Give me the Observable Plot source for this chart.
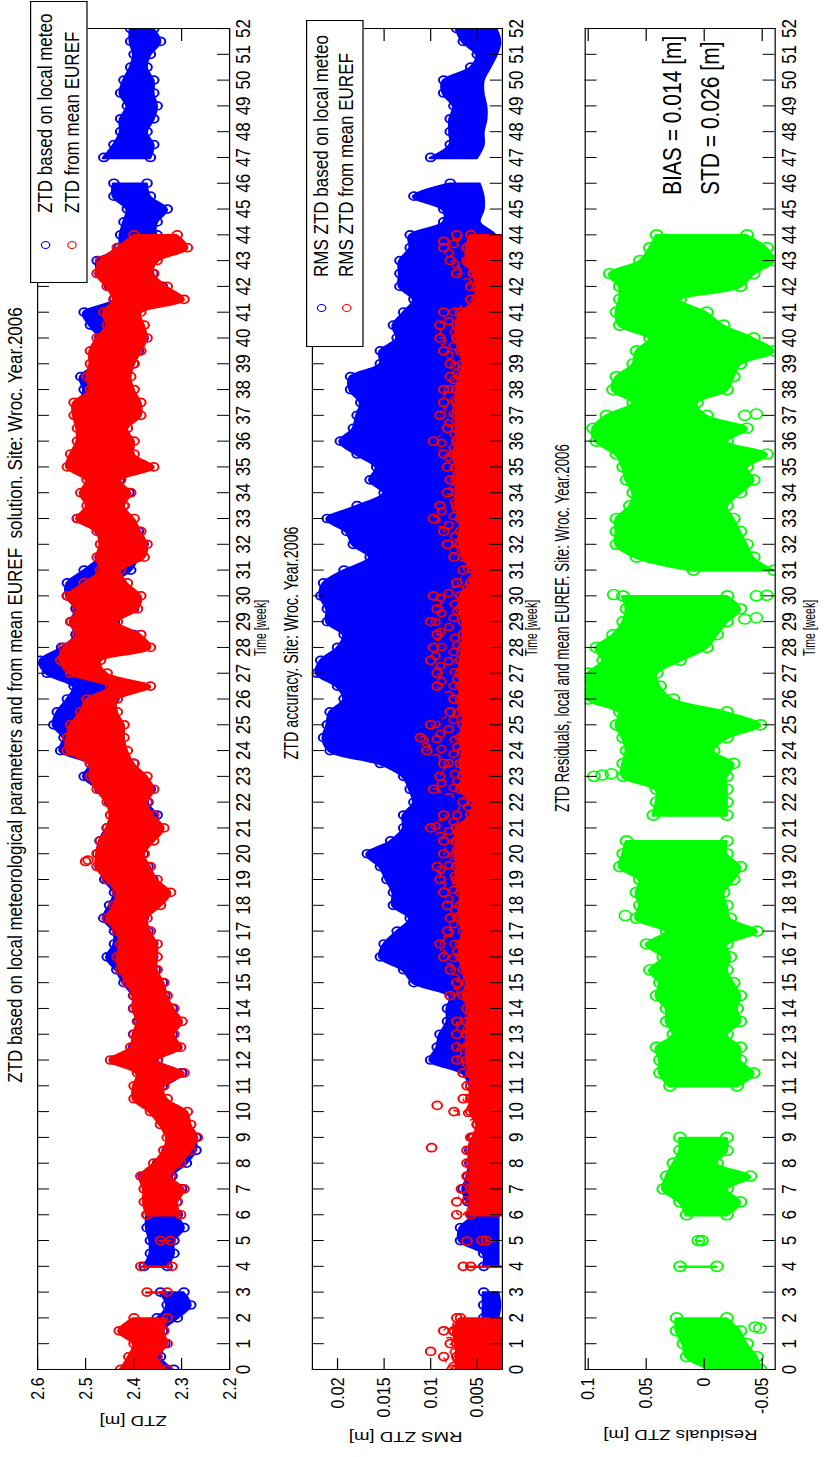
<!DOCTYPE html>
<html>
<head>
<meta charset="utf-8">
<script src="https://cdn.jsdelivr.net/npm/d3@7"></script>
<script src="https://cdn.jsdelivr.net/npm/@observablehq/plot@0.6"></script>
<style>
html, body { margin:0; padding:0; background:#fff; width:824px; height:1457px; overflow:hidden; }
#land { position:absolute; left:0; top:0; width:1457px; height:687px; transform-origin:0 0;
  transform: translate(0px,1457px) rotate(-90deg) scale(1,1.2);
  font-family:"Liberation Sans", Arial, Helvetica, sans-serif; color:#000; }
.lbl { position:absolute; line-height:1; white-space:pre; }
</style>
</head>
<body>
<svg width="0" height="0" style="position:absolute">
  <defs>
    <pattern id="redScatter" patternUnits="userSpaceOnUse" width="34" height="26">
      <circle cx="4" cy="5" r="3.5" fill="none" stroke="#ff0000" stroke-width="1.6"/>
      <circle cx="9" cy="8" r="3.5" fill="none" stroke="#ff0000" stroke-width="1.6"/>
      <circle cx="19" cy="4" r="3.5" fill="none" stroke="#ff0000" stroke-width="1.6"/>
      <circle cx="28" cy="9" r="3.5" fill="none" stroke="#ff0000" stroke-width="1.6"/>
      <circle cx="14" cy="15" r="3.5" fill="none" stroke="#ff0000" stroke-width="1.6"/>
      <circle cx="3" cy="20" r="3.5" fill="none" stroke="#ff0000" stroke-width="1.6"/>
      <circle cx="23" cy="19" r="3.5" fill="none" stroke="#ff0000" stroke-width="1.6"/>
      <circle cx="30" cy="22" r="3.5" fill="none" stroke="#ff0000" stroke-width="1.6"/>
    </pattern>
  </defs>
</svg>
<div id="land"></div>
<script>
// ---------- data ----------
const weeks = [0,0.5,1,1.5,2,2.5,3,3.5,4,4.5,
 5,5.5,6,6.5,7,7.5,8,8.5,9,9.5,
 10,10.5,11,11.5,12,12.5,13,13.5,14,14.5,
 15,15.5,16,16.5,17,17.5,18,18.5,19,19.5,
 20,20.5,21,21.5,22,22.5,23,23.5,24,24.5,
 25,25.5,26,26.5,27,27.5,28,28.5,29,29.5,
 30,30.5,31,31.5,32,32.5,33,33.5,34,34.5,
 35,35.5,36,36.5,37,37.5,38,38.5,39,39.5,
 40,40.5,41,41.5,42,42.5,43,43.5,44,44.5,
 45,45.5,46,46.5,47,47.5,48,48.5,49,49.5,
 50,50.5,51,51.5,52];

const weekTicks = [0,1,2,3,4,5,6,7,8,9,10,11,12,13,14,15,16,17,18,19,20,21,22,23,24,25,26,
 27,28,29,30,31,32,33,34,35,36,37,38,39,40,41,42,43,44,45,46,47,48,49,50,51,52];
const ztdTicks = [2.2,2.3,2.4,2.5,2.6];
const rmsTicks = [0.005,0.01,0.015,0.02];
const resTicks = [-0.05,0,0.05,0.1];

// ZTD from mean EUREF (red): upper / lower edge of the point cloud [m]
const ztdEurefHi = [2.427,2.41,2.399,2.43,2.399,null,2.372,null,2.385,null,
 2.344,null,2.372,2.378,2.378,2.385,2.358,2.337,2.33,2.344,
 2.365,2.399,2.399,2.392,2.448,2.406,2.399,2.392,2.399,2.399,
 2.413,2.427,2.434,2.427,2.434,2.455,2.441,2.434,2.455,2.476,
 2.476,2.469,2.455,2.448,2.455,2.476,2.49,2.49,2.538,2.538,
 2.531,2.51,2.497,2.448,2.531,2.552,2.545,2.517,2.531,2.517,
 2.538,2.503,2.469,2.476,2.469,2.476,2.517,2.497,2.51,2.497,
 2.538,2.531,2.517,2.517,2.524,2.524,2.49,2.497,2.49,2.49,
 2.476,2.455,2.462,2.441,2.455,2.476,2.469,2.434,2.399,null,
 null,null,null,null,null,null,null,null,null,null,
 null,null,null,null,null];
const ztdEurefLo = [2.33,2.351,2.33,2.337,2.33,null,2.33,null,2.32,null,
 2.323,null,2.302,2.309,2.295,2.323,2.302,2.281,2.267,2.281,
 2.288,2.33,2.337,2.295,2.351,2.302,2.316,2.299,2.316,2.33,
 2.337,2.351,2.351,2.351,2.365,2.372,2.344,2.323,2.351,2.365,
 2.378,2.358,2.337,2.358,2.372,2.358,2.372,2.399,2.413,2.42,
 2.42,2.434,2.434,2.365,2.455,2.469,2.365,2.385,2.434,2.392,
 2.385,2.413,2.427,2.378,2.372,2.385,2.399,2.42,2.406,2.427,
 2.358,2.399,2.399,2.413,2.385,2.385,2.399,2.406,2.399,2.385,
 2.372,2.378,2.385,2.295,2.33,2.358,2.351,2.288,2.309,null,
 null,null,null,null,null,null,null,null,null,null,
 null,null,null,null,null];

// ZTD based on local meteo (blue)
const ztdLocalHi = [2.372,2.378,2.39,2.41,2.351,2.33,2.344,null,2.378,2.365,
 2.365,2.372,2.372,2.37,2.37,2.38,2.35,2.33,2.32,null,
 null,null,2.39,2.385,2.44,2.40,2.40,2.39,2.40,2.40,
 2.42,2.435,2.455,2.44,2.44,2.462,2.45,2.44,2.46,2.47,
 2.475,2.47,2.455,2.42,2.45,2.47,2.503,2.49,2.552,2.545,
 2.566,2.559,2.538,2.524,2.58,2.594,2.55,2.52,2.53,2.52,
 2.538,2.538,2.503,2.47,2.46,2.47,2.517,2.49,2.50,2.49,
 2.52,2.52,2.50,2.49,2.51,2.51,2.503,2.51,2.48,2.48,
 2.47,2.49,2.503,2.44,2.45,2.47,2.476,2.43,2.427,2.42,
 2.413,2.441,2.441,null,2.462,2.441,2.427,2.427,2.413,2.427,
 2.42,2.406,2.399,2.406,2.406];
const ztdLocalLo = [2.316,2.344,2.335,2.34,2.309,2.281,2.295,null,2.33,2.316,
 2.316,2.295,2.309,2.31,2.30,2.32,2.29,2.27,2.27,null,
 null,null,2.34,2.30,2.35,2.31,2.32,2.31,2.32,2.335,
 2.34,2.355,2.36,2.36,2.37,2.38,2.36,2.34,2.36,2.37,
 2.38,2.37,2.35,2.351,2.37,2.365,2.41,2.40,2.43,2.43,
 2.44,2.476,2.441,2.448,2.476,2.503,2.40,2.40,2.44,2.40,
 2.42,2.44,2.406,2.39,2.38,2.39,2.42,2.42,2.41,2.43,
 2.40,2.41,2.43,2.43,2.40,2.40,2.41,2.42,2.40,2.39,
 2.38,2.40,2.40,2.32,2.34,2.36,2.36,2.31,2.351,2.351,
 2.33,2.365,2.372,null,2.365,2.358,2.372,2.358,2.351,2.358,
 2.358,2.372,2.365,2.344,2.358];
const ztdEurefOutT = [19.7,19.75];
const ztdEurefOutV = [2.50,2.495];

// RMS of ZTD based on local meteo (blue)
const rmsLocalHi = [0.0043,0.0040,0.0040,0.0040,0.0043,0.0043,0.0043,null,0.0043,0.0043,
 0.0068,0.0068,0.0055,0.0060,0.0065,0.0060,0.0058,0.0058,0.0055,null,
 null,null,0.0057,0.0065,0.0100,0.0093,0.0090,0.0082,0.0082,0.0079,
 0.0118,0.0129,0.0154,0.0150,0.0136,0.0122,0.0140,0.0140,0.0147,0.0154,
 0.0168,0.0143,0.0129,0.0129,0.0118,0.0122,0.0129,0.0154,0.0208,0.0215,
 0.0211,0.0208,0.0193,0.0200,0.0222,0.0218,0.0200,0.0193,0.0211,0.0211,
 0.0218,0.0215,0.0193,0.0165,0.0183,0.0190,0.0211,0.0179,0.0150,0.0165,
 0.0158,0.0179,0.0197,0.0183,0.0179,0.0175,0.0186,0.0186,0.0154,0.0154,
 0.0136,0.0140,0.0129,0.0118,0.0133,0.0133,0.0133,0.0122,0.0122,0.0086,
 0.0086,0.0118,0.0079,null,0.0100,0.0079,0.0079,0.0079,0.0075,0.0086,
 0.0086,0.0057,0.0050,0.0065,0.0072];
const rmsLocalLo = [0.0027,0.0027,0.0027,0.0027,0.0027,0.0025,0.0027,null,0.0027,0.0027,
 0.0027,0.0027,0.0027,0.0027,0.003,0.003,0.003,0.003,0.003,null,
 null,null,0.003,0.003,0.003,0.003,0.003,0.003,0.003,0.003,
 0.003,0.003,0.003,0.003,0.003,0.003,0.003,0.003,0.003,0.003,
 0.003,0.003,0.003,0.003,0.003,0.003,0.003,0.003,0.003,0.003,
 0.003,0.003,0.003,0.003,0.003,0.003,0.003,0.003,0.003,0.003,
 0.003,0.003,0.003,0.003,0.003,0.003,0.003,0.003,0.003,0.003,
 0.003,0.003,0.003,0.003,0.003,0.003,0.003,0.003,0.003,0.003,
 0.003,0.003,0.003,0.003,0.003,0.003,0.003,0.003,0.003,0.0047,
 0.0043,0.0043,0.0047,null,0.0050,0.0043,0.0043,0.0040,0.0040,0.0043,
 0.0043,0.0036,0.0029,0.0025,0.0029];

// RMS of ZTD from mean EUREF (red): scattered top, dense top, floor
const rmsEurefHi = [0.0077,0.0086,0.0079,0.0086,0.0072,null,null,null,0.0065,null,
 0.0045,null,0.0072,0.0072,0.0067,0.0061,0.0061,0.0061,0.0057,0.0050,
 0.0075,0.0065,0.0061,0.0065,0.0072,0.0072,0.0072,0.0072,0.0061,0.0079,
 0.0072,0.0079,0.0086,0.0090,0.0082,0.0079,0.0082,0.0086,0.0090,0.0093,
 0.0086,0.0086,0.0100,0.0086,0.0065,0.0097,0.0090,0.0086,0.0104,0.0111,
 0.0100,0.0079,0.0075,0.0093,0.0093,0.0100,0.0097,0.0093,0.0100,0.0093,
 0.0097,0.0072,0.0065,0.0075,0.0082,0.0086,0.0097,0.0090,0.0082,0.0079,
 0.0082,0.0086,0.0097,0.0082,0.0090,0.0086,0.0086,0.0079,0.0079,0.0086,
 0.0090,0.0090,0.0086,0.0057,0.0057,0.0072,0.0079,0.0086,0.0072,null,
 null,null,null,null,null,null,null,null,null,null,
 null,null,null,null,null];
const rmsEurefDense = [0.0072,0.0072,0.0072,0.0075,0.0068,null,null,null,0.0057,null,
 0.0040,null,0.0057,0.0057,0.0057,0.0057,0.0057,0.0057,0.0054,0.0050,
 0.0057,0.0057,0.0057,0.0057,0.0061,0.0061,0.0061,0.0061,0.0057,0.0065,
 0.0061,0.0065,0.0068,0.0068,0.0065,0.0068,0.0068,0.0068,0.0072,0.0072,
 0.0072,0.0072,0.0072,0.0057,0.0054,0.0068,0.0065,0.0068,0.0065,0.0068,
 0.0065,0.0065,0.0068,0.0068,0.0068,0.0068,0.0065,0.0065,0.0065,0.0068,
 0.0068,0.0057,0.0054,0.0065,0.0068,0.0068,0.0068,0.0072,0.0072,0.0072,
 0.0072,0.0075,0.0072,0.0072,0.0072,0.0072,0.0072,0.0068,0.0065,0.0068,
 0.0072,0.0072,0.0068,0.0050,0.0050,0.0054,0.0061,0.0061,0.0057,null,
 null,null,null,null,null,null,null,null,null,null,
 null,null,null,null,null];
const rmsEurefLo = [0.0023,0.0023,0.0023,0.0023,0.0023,null,null,null,0.0023,null,
 0.0030,null,0.0023,0.0023,0.0023,0.0023,0.0023,0.0023,0.0023,0.0023,
 0.0023,0.0023,0.0023,0.0023,0.0023,0.0023,0.0023,0.0023,0.0023,0.0023,
 0.0023,0.0023,0.0023,0.0023,0.0023,0.0023,0.0023,0.0023,0.0023,0.0023,
 0.0023,0.0023,0.0023,0.0023,0.0023,0.0023,0.0023,0.0023,0.0023,0.0023,
 0.0023,0.0023,0.0023,0.0023,0.0023,0.0023,0.0023,0.0023,0.0023,0.0023,
 0.0023,0.0023,0.0023,0.0023,0.0023,0.0023,0.0023,0.0023,0.0023,0.0023,
 0.0023,0.0023,0.0023,0.0023,0.0023,0.0023,0.0023,0.0023,0.0023,0.0023,
 0.0023,0.0023,0.0023,0.0023,0.0023,0.0023,0.0023,0.0023,0.0023,null,
 null,null,null,null,null,null,null,null,null,null,
 null,null,null,null,null];
const rmsEurefOutT = [0.7,4.98,8.6,10.24,43.75];
const rmsEurefOutV = [0.0100,0.0061,0.0099,0.0093,0.0086];

// Residuals local - mean EUREF (green)
const resHi = [-0.0081,0.015,0.0179,0.0237,0.0237,null,null,null,0.0208,null,
 0.005,null,0.015,0.0208,0.0352,0.0323,0.0265,0.0208,0.0208,null,
 null,null,0.0294,0.0381,0.0381,0.041,0.0265,0.0323,0.0323,0.041,
 0.0381,0.0467,0.0352,0.0496,0.0323,0.0583,0.0554,0.0583,0.0554,0.0727,
 0.0698,0.0669,null,0.0438,0.041,0.041,0.0698,0.0698,0.0669,0.0698,
 0.0756,0.0727,0.1,0.1,0.1,0.087,0.0929,0.0785,0.0698,0.0669,
 0.07,null,0.0092,0.0583,0.0756,0.0756,0.0756,0.064,0.0611,0.0669,
 0.0698,0.0756,0.0929,0.0958,0.0842,0.0611,0.0785,0.0756,0.0611,0.0583,
 0.0467,0.0727,0.0756,0.0727,0.0727,0.0813,0.0554,0.0467,0.041,null,
 null,null,null,null,null,null,null,null,null,null,
 null,null,null,null,null];
const resLo = [-0.0485,-0.0456,-0.0369,-0.0312,-0.0196,null,null,null,-0.011,null,
 0.002,null,-0.0196,-0.0312,-0.0196,-0.0398,-0.011,-0.0196,-0.0196,null,
 null,null,-0.0283,-0.0427,-0.0312,-0.0312,-0.0196,-0.0312,-0.0283,-0.0312,
 -0.0254,-0.0196,-0.0225,-0.0196,-0.0456,-0.0225,-0.0196,-0.0167,-0.0254,-0.0312,
 -0.0196,-0.0196,null,-0.0196,-0.0196,-0.0196,-0.0196,-0.0254,-0.0081,-0.0196,
 -0.0485,-0.0196,0.0265,0.0381,0.041,0.0208,-0.0023,-0.011,-0.0196,-0.0312,
 -0.02,null,-0.06,-0.0427,-0.0369,-0.0312,-0.0254,-0.0196,-0.0312,-0.0427,
 -0.0369,-0.0542,-0.0196,-0.0369,-0.0023,0.0063,-0.0196,-0.0254,-0.0312,-0.06,
 -0.0427,-0.0167,-0.0023,0.0208,-0.0312,-0.0427,-0.06,-0.0542,-0.0369,null,
 null,null,null,null,null,null,null,null,null,null,
 null,null,null,null,null];
const resOutT = [1.6,1.65,23,23.05,23.1,29.1,29.15,30,30.02,30.05,37,37.05,17.6];
const resOutV = [-0.048,-0.044,0.095,0.088,0.08,-0.035,-0.045,-0.045,-0.054,0.078,-0.035,-0.045,0.068];

const titles = [
  "ZTD based on local meteorological parameters and from mean EUREF  solution. Site: Wroc. Year.2006",
  "ZTD accuracy. Site: Wroc. Year.2006",
  "ZTD Residuals, local and mean EUREF. Site: Wroc. Year.2006"
];
const yLabels = ["ZTD [m]", "RMS ZTD [m]", "Residuals ZTD [m]"];
const xLabel = "Time [week]";
const legend1 = ["ZTD based on local meteo", "ZTD from mean EUREF"];
const legend2 = ["RMS ZTD based on local meteo", "RMS ZTD from mean EUREF"];
const stats = ["BIAS = 0.014 [m]", "STD = 0.026 [m]"];

// ---------- tables ----------
const ztdRows = weeks.map((t, i) => ({t, bHi: ztdLocalHi[i], bLo: ztdLocalLo[i], rHi: ztdEurefHi[i], rLo: ztdEurefLo[i]}));
const rmsRows = weeks.map((t, i) => ({t, bHi: rmsLocalHi[i], bLo: rmsLocalLo[i], rHi: rmsEurefHi[i], rD: rmsEurefDense[i], rLo: rmsEurefLo[i]}));
const resRows = weeks.map((t, i) => ({t, hi: resHi[i], lo: resLo[i]}));
const ztdOut = ztdEurefOutT.map((t, i) => ({t, v: ztdEurefOutV[i]}));
const rmsOut = rmsEurefOutT.map((t, i) => ({t, v: rmsEurefOutV[i]}));
const resOut = resOutT.map((t, i) => ({t, v: resOutV[i]}));

// ---------- layout ----------
const S = 1.2;              // vertical stretch of the landscape figure
const W = 1457, ML = 87, MR = 29;
const BLUE = "#0000ff", RED = "#ff0000", GREEN = "#00ff00";
const FONT = '"Liberation Sans", Arial, Helvetica, sans-serif';
const CURVE = "catmull-rom";
const land = document.getElementById("land");

function band(rows, y1, y2, color) {
  return Plot.areaY(rows, {x: "t", y1, y2, fill: color, stroke: color, strokeWidth: 2.5, curve: CURVE, clip: true});
}
function edge(rows, y, color, r = 4) {
  return Plot.dot(rows, {x: "t", y, r, stroke: color, strokeWidth: 1.7, fill: "none", clip: true});
}

function panel(top, h, mt, mb, domain, ticks, fmt, marks) {
  const height = h / S, mT = mt / S, mB = mb / S;
  const fh = height - mT - mB, fw = W - ML - MR, tl = 12;
  const svg = Plot.plot({
    width: W, height, marginLeft: ML, marginRight: MR, marginTop: mT, marginBottom: mB,
    x: {domain: [0, 52]},
    y: {domain},
    style: {fontFamily: FONT, fontSize: "17px", color: "#000", background: "transparent", overflow: "visible"},
    marks: [
      ...marks,
      Plot.ruleX(weekTicks, {stroke: "#000", insetTop: fh - tl / S}),
      Plot.ruleX(weekTicks, {stroke: "#000", insetBottom: fh - tl / S}),
      Plot.ruleY(ticks, {stroke: "#000", insetRight: fw - tl}),
      Plot.ruleY(ticks, {stroke: "#000", insetLeft: fw - tl}),
      Plot.frame({stroke: "#000"}),
      Plot.axisX(weekTicks, {tickSize: 0, tickPadding: 5, label: null, fontSize: 17}),
      Plot.axisY(ticks, {tickSize: 0, tickPadding: 8, label: null, tickFormat: fmt, fontSize: 16})
    ]
  });
  svg.style.position = "absolute";
  svg.style.left = "0px";
  svg.style.top = (top / S) + "px";
  land.appendChild(svg);
}

panel(0, 275, 37, 46, [2.2, 2.6], ztdTicks, d => d.toFixed(1), [
  band(ztdRows, "bLo", "bHi", BLUE), edge(ztdRows, "bHi", BLUE), edge(ztdRows, "bLo", BLUE),
  band(ztdRows, "rLo", "rHi", RED), edge(ztdRows, "rHi", RED), edge(ztdRows, "rLo", RED),
  Plot.dot(ztdOut, {x: "t", y: "v", r: 4, stroke: RED, strokeWidth: 1.7, clip: true})
]);

panel(275, 275, 37, 48, [0.0023, 0.0227], rmsTicks, d => String(d), [
  band(rmsRows, "bLo", "bHi", BLUE), edge(rmsRows, "bHi", BLUE),
  Plot.areaY(rmsRows, {x: "t", y1: "rD", y2: "rHi", fill: "url(#redScatter)", curve: CURVE, clip: true}),
  band(rmsRows, "rLo", "rD", RED), edge(rmsRows, "rHi", RED), edge(rmsRows, "rD", RED),
  Plot.dot(rmsOut, {x: "t", y: "v", r: 4, stroke: RED, strokeWidth: 1.7, clip: true})
]);

panel(550, 274, 35, 49, [-0.0612, 0.1026], resTicks, d => String(d), [
  band(resRows, "lo", "hi", GREEN), edge(resRows, "hi", GREEN, 5), edge(resRows, "lo", GREEN, 5),
  Plot.dot(resOut, {x: "t", y: "v", r: 5, stroke: GREEN, strokeWidth: 1.5, clip: true})
]);

// ---------- texts ----------
// text centred at (x, y) of the final landscape figure; sy stretches glyphs vertically
function txt(str, x, y, size, anchor = "middle", rotate = false, sy = 1) {
  const wrap = document.createElement("div");
  wrap.className = "lbl";
  wrap.style.left = x + "px";
  wrap.style.top = (y / S) + "px";
  wrap.style.fontSize = size + "px";
  const tx = anchor === "start" ? "0%" : "-50%";
  const parts = [`translate(${tx}, -50%)`];
  if (rotate) parts.push("rotate(-90deg)");
  if (sy !== 1) parts.push(`scale(1, ${sy})`);
  wrap.style.transform = parts.join(" ");
  wrap.style.transformOrigin = anchor === "start" ? "0% 50%" : "50% 50%";
  wrap.textContent = str;
  land.appendChild(wrap);
  return wrap;
}
txt(titles[0], 762, 16, 17);
txt(titles[1], 814, 292, 14.3, "middle", false, 1.18);
txt(titles[2], 829, 563, 13.3, "middle", false, 1.25);
txt(xLabel, 829, 260, 10.5, "middle", false, 1.3);
txt(xLabel, 829, 531, 10.5, "middle", false, 1.3);
txt(xLabel, 829, 809, 10.5, "middle", false, 1.3);
txt(yLabels[0], 36, 133, 15.5, "middle", true);
txt(yLabels[1], 20, 405, 15.5, "middle", true);
txt(yLabels[2], 22, 680, 15.5, "middle", true);
txt(stats[0], 1262, 672, 21, "start");
txt(stats[1], 1262, 710, 21, "start");

function legend(left, top, w, h, labels, markerX, rowsY, textX) {
  const box = document.createElement("div");
  box.style.cssText = `position:absolute;left:${left}px;top:${top / S}px;width:${w}px;height:${h / S}px;background:#fff;border:1px solid #000;box-sizing:border-box;`;
  land.appendChild(box);
  [BLUE, RED].forEach((c, i) => {
    const m = document.createElement("div");
    m.style.cssText = `position:absolute;left:${markerX - 4}px;top:${rowsY[i] / S - 4}px;width:8px;height:8px;border:1.7px solid ${c};border-radius:50%;box-sizing:border-box;`;
    land.appendChild(m);
    txt(labels[i], textX, rowsY[i], 17, "start");
  });
}
legend(1174, 30, 282, 57, legend1, 1212, [45, 72], 1244);
legend(1110, 306, 327, 57, legend2, 1149, [322, 347], 1180);
</script>
</body>
</html>
